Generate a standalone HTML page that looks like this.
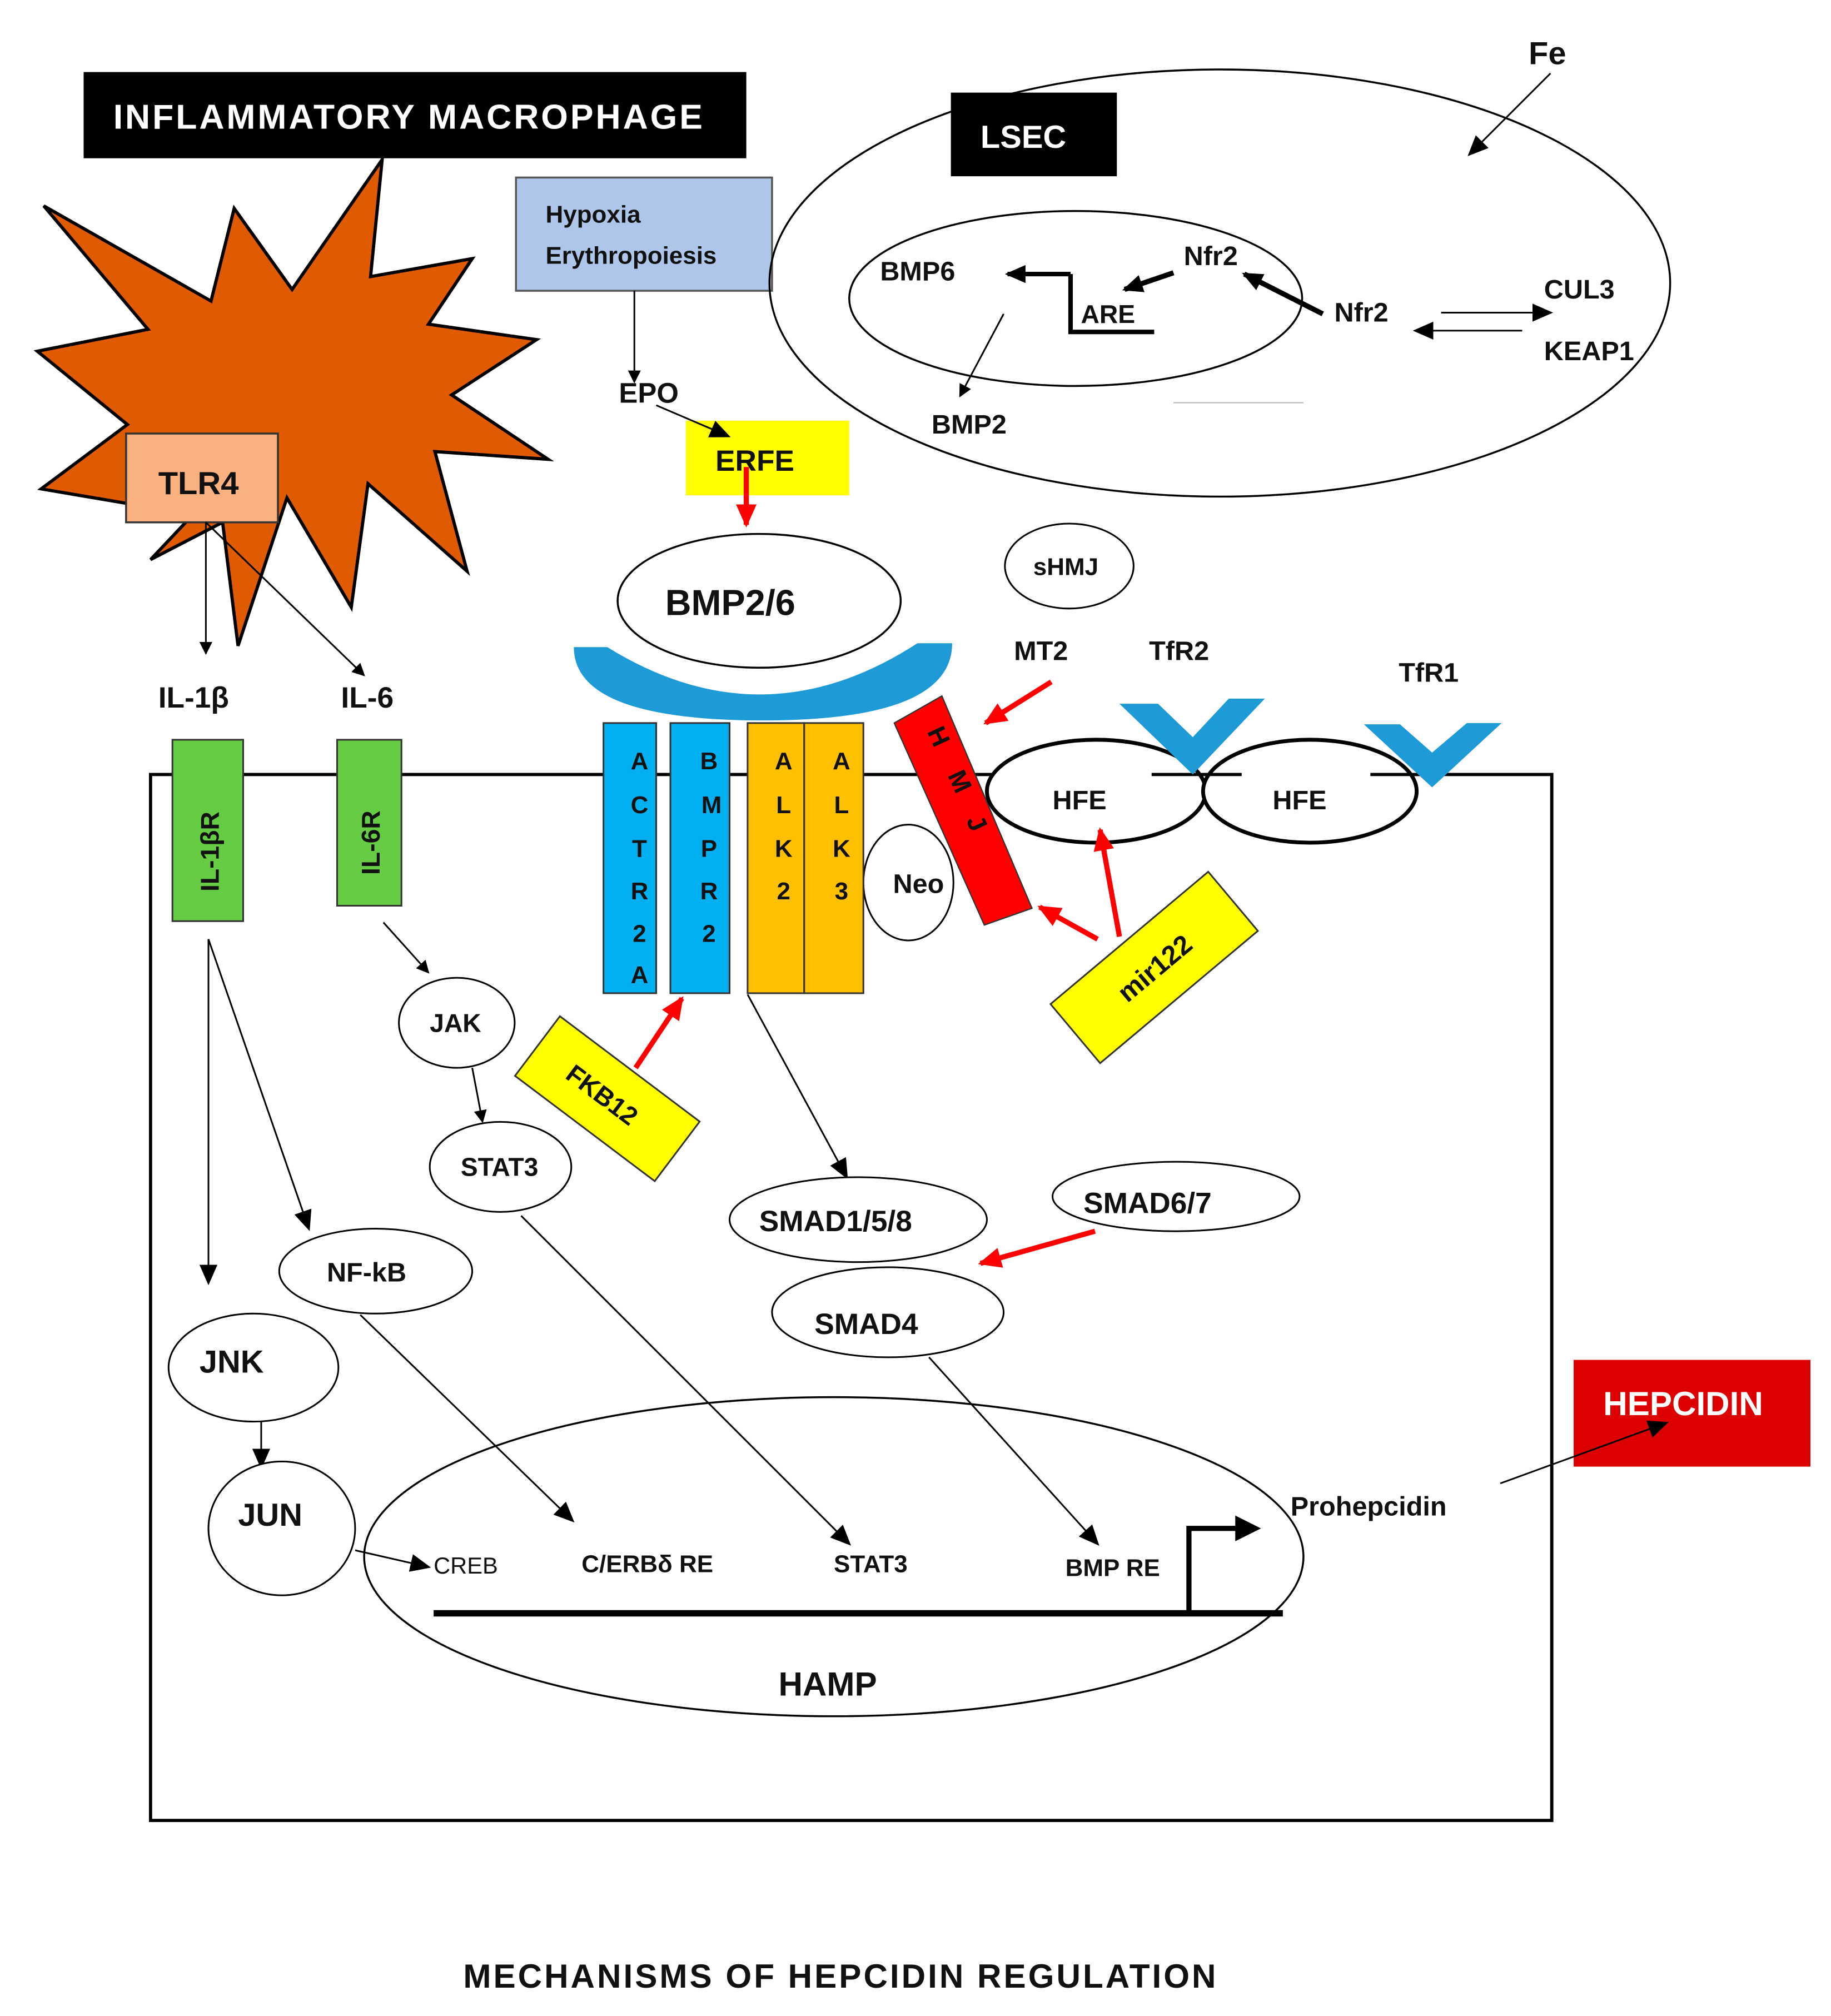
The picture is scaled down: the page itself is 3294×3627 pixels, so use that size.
<!DOCTYPE html>
<html><head><meta charset="utf-8"><style>html,body{margin:0;padding:0;background:#fff}svg{display:block}text{font-family:"Liberation Sans",sans-serif;font-weight:bold;fill:#111}</style></head>
<body>
<svg width="3294" height="3627" viewBox="0 0 1423 1567" preserveAspectRatio="none" xmlns="http://www.w3.org/2000/svg">
<defs>
<marker id="a" markerWidth="10" markerHeight="10" refX="9" refY="5" orient="auto" markerUnits="userSpaceOnUse"><path d="M0,0 L10,5 L0,10 z" fill="#000"/></marker>
<marker id="ab" markerWidth="16" markerHeight="14" refX="14" refY="7" orient="auto" markerUnits="userSpaceOnUse"><path d="M0,0 L16,7 L0,14 z" fill="#000"/></marker>
<marker id="r" markerWidth="18" markerHeight="16" refX="16" refY="8" orient="auto" markerUnits="userSpaceOnUse"><path d="M0,0 L18,8 L0,16 z" fill="#f00"/></marker>
</defs>
<rect x="65" y="56" width="515" height="67" fill="#000"/>
<text x="88" y="100" font-size="27" style="fill:#fff" textLength="458">INFLAMMATORY MACROPHAGE</text>
<polygon points="34,160 164,234 182,162 227,225 297,124 288,215 367,201 333,252 417,264 351,307 426,357 338,351 363,444 286,376 273,472 223,387 185,502 173,406 117,435 150,400 32,380 99,330 29,273 115,256" fill="#E05A00" stroke="#000" stroke-width="2.5"/>
<rect x="98" y="337" width="118" height="69" fill="#FBB080" stroke="#333" stroke-width="1.5"/>
<text x="123" y="384" font-size="25">TLR4</text>
<line x1="160" y1="406" x2="160" y2="508" stroke="#000" stroke-width="1.3" marker-end="url(#a)"/>
<line x1="160" y1="406" x2="283" y2="525" stroke="#000" stroke-width="1.3" marker-end="url(#a)"/>
<text x="123" y="550" font-size="23">IL-1β</text>
<text x="265" y="550" font-size="23">IL-6</text>
<rect x="401" y="138" width="199" height="88" fill="#ADC6E9" stroke="#555" stroke-width="1.5"/>
<text x="424" y="173" font-size="19">Hypoxia</text>
<text x="424" y="205" font-size="19">Erythropoiesis</text>
<line x1="493" y1="226" x2="493" y2="297" stroke="#000" stroke-width="1.3" marker-end="url(#a)"/>
<text x="481" y="313" font-size="22">EPO</text>
<rect x="533" y="327" width="127" height="58" fill="#FFFF00"/>
<line x1="510" y1="315" x2="566" y2="339" stroke="#000" stroke-width="1.3" marker-end="url(#ab)"/>
<text x="556" y="366" font-size="23">ERFE</text>
<line x1="580" y1="363" x2="580" y2="408" stroke="#f00" stroke-width="4" marker-end="url(#r)"/>
<!-- LSEC -->
<ellipse cx="948" cy="220" rx="350" ry="166" fill="none" stroke="#000" stroke-width="1.5"/>
<ellipse cx="836" cy="232" rx="176" ry="68" fill="none" stroke="#000" stroke-width="1.5"/>
<rect x="739" y="72" width="129" height="65" fill="#000"/>
<text x="762" y="115" font-size="25" style="fill:#fff">LSEC</text>
<text x="1188" y="50" font-size="25">Fe</text>
<line x1="1205" y1="57" x2="1142" y2="120" stroke="#000" stroke-width="1.3" marker-end="url(#ab)"/>
<text x="684" y="218" font-size="21">BMP6</text>
<line x1="832" y1="213" x2="783" y2="213" stroke="#000" stroke-width="3.5" marker-end="url(#ab)"/>
<polyline points="832,213 832,258 897,258" fill="none" stroke="#000" stroke-width="3.5"/>
<text x="840" y="251" font-size="20">ARE</text>
<line x1="912" y1="212" x2="874" y2="225" stroke="#000" stroke-width="4" marker-end="url(#ab)"/>
<text x="920" y="206" font-size="21">Nfr2</text>
<line x1="1028" y1="244" x2="967" y2="213" stroke="#000" stroke-width="4" marker-end="url(#ab)"/>
<text x="1037" y="250" font-size="21">Nfr2</text>
<line x1="1120" y1="243" x2="1205" y2="243" stroke="#000" stroke-width="1.3" marker-end="url(#ab)"/>
<line x1="1183" y1="257" x2="1100" y2="257" stroke="#000" stroke-width="1.3" marker-end="url(#ab)"/>
<text x="1200" y="232" font-size="21">CUL3</text>
<text x="1200" y="280" font-size="21">KEAP1</text>
<line x1="780" y1="244" x2="746" y2="308" stroke="#000" stroke-width="1.3" marker-end="url(#a)"/>
<text x="724" y="337" font-size="21">BMP2</text>
<line x1="912" y1="313" x2="1013" y2="313" stroke="#bbb" stroke-width="1"/>
<!-- BMP2/6 -->
<ellipse cx="590" cy="467" rx="110" ry="52" fill="#fff" stroke="#000" stroke-width="1.5"/>
<text x="517" y="478" font-size="28">BMP2/6</text>
<path d="M446,503 L472,503 Q593,578 713,500 L740,500 Q740,560 593,560 Q446,560 446,503 Z" fill="#1E9AD6"/>
<ellipse cx="831" cy="440" rx="50" ry="33" fill="#fff" stroke="#000" stroke-width="1.3"/>
<text x="803" y="447" font-size="19">sHMJ</text>
<text x="788" y="513" font-size="21">MT2</text>
<text x="893" y="513" font-size="21">TfR2</text>
<text x="1087" y="530" font-size="21">TfR1</text>
<line x1="817" y1="530" x2="766" y2="562" stroke="#f00" stroke-width="4" marker-end="url(#r)"/>
<!-- cell -->
<rect x="117" y="602" width="1089" height="813" fill="none" stroke="#000" stroke-width="2.5"/>
<ellipse cx="852" cy="615" rx="85" ry="40" fill="#fff" stroke="#000" stroke-width="3"/>
<ellipse cx="1018" cy="615" rx="83" ry="40" fill="#fff" stroke="#000" stroke-width="3"/>
<line x1="895" y1="602" x2="965" y2="602" stroke="#000" stroke-width="2.5"/>
<line x1="1065" y1="602" x2="1110" y2="602" stroke="#000" stroke-width="2.5"/>
<text x="818" y="629" font-size="21">HFE</text>
<text x="989" y="629" font-size="21">HFE</text>
<polygon points="870,547 900,547 927,573 955,543 983,543 927,602" fill="#1E9AD6"/>
<polygon points="1060,563 1088,563 1113,585 1140,562 1167,562 1113,612" fill="#1E9AD6"/>
<polygon points="695,562 732,541 802,706 765,719" fill="#f00" stroke="#333" stroke-width="1"/>
<text x="722" y="580" font-size="20" transform="rotate(65 730 573)">H</text>
<text x="738" y="614" font-size="20" transform="rotate(65 746 607)">M</text>
<text x="753" y="648" font-size="20" transform="rotate(65 760 641)">J</text>
<ellipse cx="706" cy="686" rx="35" ry="45" fill="#fff" stroke="#000" stroke-width="1.3"/>
<text x="694" y="694" font-size="21">Neo</text>
<rect x="469" y="562" width="41" height="210" fill="#00B0F0" stroke="#333" stroke-width="1.3"/>
<rect x="521" y="562" width="46" height="210" fill="#00B0F0" stroke="#333" stroke-width="1.3"/>
<rect x="581" y="562" width="44" height="210" fill="#FFC000" stroke="#333" stroke-width="1.3"/>
<rect x="625" y="562" width="46" height="210" fill="#FFC000" stroke="#333" stroke-width="1.3"/>
<g font-size="19" text-anchor="middle">
<text x="497" y="598">A</text><text x="497" y="632">C</text><text x="497" y="666">T</text><text x="497" y="699">R</text><text x="497" y="732">2</text><text x="497" y="764">A</text>
<text x="551" y="598">B</text><text x="553" y="632">M</text><text x="551" y="666">P</text><text x="551" y="699">R</text><text x="551" y="732">2</text>
<text x="609" y="598">A</text><text x="609" y="632">L</text><text x="609" y="666">K</text><text x="609" y="699">2</text>
<text x="654" y="598">A</text><text x="654" y="632">L</text><text x="654" y="666">K</text><text x="654" y="699">3</text>
</g>
<g transform="translate(897,752) rotate(-40)"><rect x="-80" y="-30" width="160" height="60" fill="#FFFF00" stroke="#333" stroke-width="1.3"/><text x="0" y="8" font-size="21" text-anchor="middle">mir122</text></g>
<line x1="853" y1="730" x2="808" y2="705" stroke="#f00" stroke-width="4" marker-end="url(#r)"/>
<line x1="870" y1="728" x2="855" y2="645" stroke="#f00" stroke-width="4" marker-end="url(#r)"/>
<g transform="translate(472,854) rotate(37)"><rect x="-68" y="-29" width="136" height="58" fill="#FFFF00" stroke="#333" stroke-width="1.3"/><text x="-5" y="7" font-size="20" text-anchor="middle">FKB12</text></g>
<line x1="494" y1="830" x2="530" y2="776" stroke="#f00" stroke-width="4" marker-end="url(#r)"/>
<rect x="134" y="575" width="55" height="141" fill="#66CC44" stroke="#333" stroke-width="1.3"/>
<text x="0" y="0" font-size="20" transform="translate(170,693) rotate(-90)">IL-1βR</text>
<rect x="262" y="575" width="50" height="129" fill="#66CC44" stroke="#333" stroke-width="1.3"/>
<text x="0" y="0" font-size="20" transform="translate(295,680) rotate(-90)">IL-6R</text>
<line x1="162" y1="730" x2="162" y2="997" stroke="#000" stroke-width="1.3" marker-end="url(#ab)"/>
<line x1="162" y1="730" x2="240" y2="955" stroke="#000" stroke-width="1.3" marker-end="url(#ab)"/>
<line x1="298" y1="717" x2="333" y2="756" stroke="#000" stroke-width="1.3" marker-end="url(#a)"/>
<ellipse cx="355" cy="795" rx="45" ry="35" fill="#fff" stroke="#000" stroke-width="1.3"/>
<text x="334" y="802" font-size="20">JAK</text>
<line x1="367" y1="830" x2="375" y2="872" stroke="#000" stroke-width="1.3" marker-end="url(#a)"/>
<ellipse cx="389" cy="907" rx="55" ry="35" fill="#fff" stroke="#000" stroke-width="1.3"/>
<text x="358" y="914" font-size="20">STAT3</text>
<ellipse cx="292" cy="988" rx="75" ry="33" fill="#fff" stroke="#000" stroke-width="1.3"/>
<text x="254" y="996" font-size="21">NF-kB</text>
<ellipse cx="197" cy="1063" rx="66" ry="42" fill="#fff" stroke="#000" stroke-width="1.3"/>
<text x="155" y="1067" font-size="25">JNK</text>
<line x1="203" y1="1105" x2="203" y2="1140" stroke="#000" stroke-width="1.3" marker-end="url(#ab)"/>
<ellipse cx="219" cy="1188" rx="57" ry="52" fill="#fff" stroke="#000" stroke-width="1.3"/>
<text x="185" y="1186" font-size="25">JUN</text>
<ellipse cx="648" cy="1210" rx="365" ry="124" fill="none" stroke="#000" stroke-width="1.5"/>
<line x1="276" y1="1205" x2="333" y2="1218" stroke="#000" stroke-width="1.3" marker-end="url(#ab)"/>
<text x="337" y="1223" font-size="18" style="font-weight:normal">CREB</text>
<text x="452" y="1222" font-size="19">C/ERBδ RE</text>
<text x="648" y="1222" font-size="19">STAT3</text>
<text x="828" y="1225" font-size="19">BMP RE</text>
<line x1="337" y1="1254" x2="997" y2="1254" stroke="#000" stroke-width="5"/>
<polyline points="924,1254 924,1188 962,1188" fill="none" stroke="#000" stroke-width="4"/>
<path d="M960,1178 L980,1188 L960,1198 z" fill="#000"/>
<text x="605" y="1318" font-size="26">HAMP</text>
<text x="1003" y="1178" font-size="21">Prohepcidin</text>
<line x1="280" y1="1022" x2="445" y2="1182" stroke="#000" stroke-width="1.3" marker-end="url(#ab)"/>
<line x1="405" y1="945" x2="660" y2="1200" stroke="#000" stroke-width="1.3" marker-end="url(#ab)"/>
<line x1="722" y1="1055" x2="853" y2="1200" stroke="#000" stroke-width="1.3" marker-end="url(#ab)"/>
<line x1="581" y1="773" x2="658" y2="915" stroke="#000" stroke-width="1.3" marker-end="url(#ab)"/>
<ellipse cx="667" cy="948" rx="100" ry="33" fill="#fff" stroke="#000" stroke-width="1.3"/>
<text x="590" y="957" font-size="23">SMAD1/5/8</text>
<ellipse cx="914" cy="930" rx="96" ry="27" fill="#fff" stroke="#000" stroke-width="1.3"/>
<text x="842" y="943" font-size="23">SMAD6/7</text>
<ellipse cx="690" cy="1020" rx="90" ry="35" fill="#fff" stroke="#000" stroke-width="1.3"/>
<text x="633" y="1037" font-size="23">SMAD4</text>
<line x1="851" y1="957" x2="762" y2="982" stroke="#f00" stroke-width="4" marker-end="url(#r)"/>
<rect x="1223" y="1057" width="184" height="83" fill="#DD0000"/>
<text x="1246" y="1100" font-size="26" style="fill:#fff">HEPCIDIN</text>
<line x1="1166" y1="1153" x2="1295" y2="1106" stroke="#000" stroke-width="1.3" marker-end="url(#ab)"/>
<text x="360" y="1545" font-size="26" textLength="585">MECHANISMS OF HEPCIDIN REGULATION</text>
</svg>
</body></html>
